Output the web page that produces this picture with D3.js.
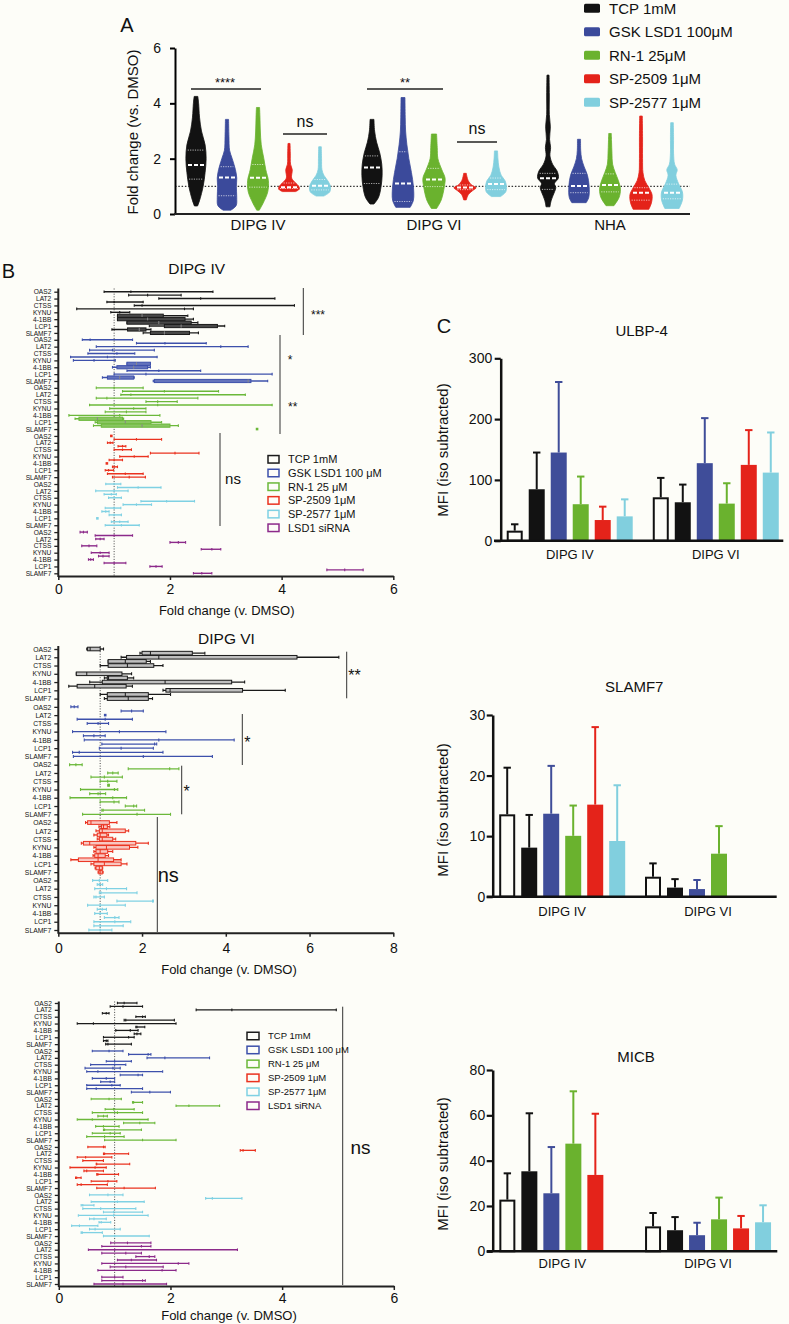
<!DOCTYPE html>
<html><head><meta charset="utf-8">
<script src="https://cdn.jsdelivr.net/npm/d3@7"></script>
<style>
html,body{margin:0;padding:0;background:#fdfdf8;}
svg{display:block;}
text{font-family:'Liberation Sans',Arial,Helvetica,sans-serif;fill:#111;}
</style></head><body>
<svg id="fig" width="789" height="1324"></svg>
<script>
// ================= DATA =================
// ---- Panel A (violins) ----
const groupsA = ["DIPG IV", "DIPG VI", "NHA"];
const treatmentsA = ["TCP 1mM", "GSK LSD1 100μM", "RN-1 25μM", "SP-2509 1μM", "SP-2577 1μM"];
const colorsA = ["#121212", "#3b4a9b", "#6ab22e", "#e4231a", "#81cfde"];
const yTicksA = [0, 2, 4, 6];
// density profiles: [fold change, relative density]
const violinDIPG4 = [
  [[0.29,0.12],[0.5,0.28],[1.0,0.55],[1.5,0.7],[2.0,0.78],[2.5,0.7],[3.0,0.42],[3.5,0.27],[4.0,0.2],[4.25,0.14]],
  [[0.14,0.3],[0.3,0.7],[0.6,0.75],[1.0,0.72],[1.3,0.75],[1.6,0.65],[2.0,0.4],[2.3,0.2],[2.8,0.15],[3.42,0.12]],
  [[0.14,0.1],[0.4,0.4],[0.8,0.75],[1.2,0.8],[1.6,0.6],[2.0,0.45],[2.5,0.25],[3.0,0.18],[3.5,0.15],[3.85,0.12]],
  [[0.81,0.5],[0.9,0.8],[1.0,0.75],[1.15,0.45],[1.3,0.2],[1.6,0.25],[1.8,0.12],[2.2,0.1],[2.55,0.08]],
  [[0.65,0.3],[0.8,0.75],[1.0,0.8],[1.2,0.6],[1.4,0.3],[1.6,0.15],[2.0,0.12],[2.43,0.1]]
];
const violinDIPG6 = [
  [[0.36,0.15],[0.6,0.5],[1.0,0.7],[1.4,0.78],[1.8,0.75],[2.2,0.6],[2.6,0.35],[3.0,0.2],[3.42,0.15]],
  [[0.24,0.55],[0.5,0.8],[1.0,0.8],[1.5,0.65],[2.0,0.45],[2.5,0.3],[3.0,0.2],[3.5,0.17],[4.21,0.15]],
  [[0.2,0.2],[0.5,0.55],[1.0,0.8],[1.3,0.85],[1.6,0.6],[2.0,0.3],[2.4,0.25],[2.89,0.2]],
  [[0.51,0.1],[0.7,0.25],[0.85,0.6],[0.95,0.85],[1.05,0.5],[1.2,0.25],[1.35,0.15],[1.47,0.1]],
  [[0.63,0.35],[0.8,0.75],[1.0,0.8],[1.2,0.7],[1.4,0.4],[1.7,0.22],[2.0,0.15],[2.28,0.12]]
];
const violinNHA = [
  [[0.26,0.15],[0.5,0.25],[0.8,0.5],[0.95,0.6],[1.1,0.5],[1.3,0.8],[1.55,0.7],[1.8,0.35],[2.1,0.15],[2.4,0.2],[2.7,0.12],[3.15,0.18],[3.6,0.1],[4.3,0.1],[5.02,0.08]],
  [[0.41,0.55],[0.6,0.75],[1.0,0.78],[1.4,0.65],[1.7,0.4],[2.0,0.2],[2.3,0.13],[2.7,0.12]],
  [[0.3,0.3],[0.6,0.7],[0.9,0.8],[1.2,0.65],[1.5,0.4],[1.8,0.2],[2.2,0.15],[2.6,0.12],[2.91,0.1]],
  [[0.17,0.6],[0.4,0.8],[0.7,0.85],[0.95,0.6],[1.2,0.3],[1.5,0.15],[2.0,0.12],[2.8,0.12],[3.54,0.1]],
  [[0.2,0.55],[0.5,0.8],[0.8,0.8],[1.1,0.5],[1.4,0.3],[1.6,0.4],[1.8,0.2],[2.2,0.12],[2.8,0.12],[3.3,0.1]]
];
// [Q1, median, Q3]
const statsDIPG4 = [[1.26,1.77,2.31],[0.66,1.32,1.71],[0.97,1.31,1.79],[0.92,0.97,1.12],[0.87,1.02,1.25]];
const statsDIPG6 = [[1.1,1.68,2.1],[0.45,1.1,2.25],[0.99,1.25,1.65],[0.88,0.96,1.05],[0.88,1.08,1.3]];
const statsNHA   = [[0.89,1.29,1.47],[0.77,1.01,1.47],[0.8,1.05,1.45],[0.5,0.77,0.95],[0.55,0.77,1.08]];

// ---- Panel B (floating bars / boxes): [lo, mid, hi] or [lo, q1, mid, q3, hi] ----
const genes = ["OAS2", "LAT2", "CTSS", "KYNU", "4-1BB", "LCP1", "SLAMF7"];
const treatmentsB = ["TCP 1mM", "GSK LSD1 100 μM", "RN-1 25 μM", "SP-2509 1μM", "SP-2577 1μM", "LSD1 siRNA"];
const colorsB = ["#1a1a1a", "#3d50ab", "#6bb83a", "#ea321f", "#7fd1e3", "#8c2a8a"];
const xTicksB1 = [0, 2, 4, 6];
const xTicksB2 = [0, 2, 4, 6, 8];
const xTicksB3 = [0, 2, 4, 6];

const b1TCP = [[0.82,1.3,2.77],[1.26,1.6,2.2],[1.8,2.55,3.88],[0.87,1.0,1.52],[1.36,1.5,4.23],[0.33,2.26,2.42],[0.94,1.1,1.28],
  [1.06,1.06,1.5,1.88,2.32],[1.06,1.06,1.6,2.27,2.42],[1.23,1.23,1.8,2.38,2.5],[1.63,1.9,2.2,2.85,2.98],[0.96,1.24,1.45,1.57,1.66],[1.52,1.65,1.9,2.35,2.51]];
const b1GSK = [[0.43,0.57,1.33],[1.4,1.91,2.65],[0.68,2.91,3.4],[0.56,0.97,1.72],[0.53,1.05,1.37],[0.22,0.88,1.77],[0.27,0.64,1.02],
  [1.23,1.23,1.4,1.65,1.65],[0.97,1.05,1.35,1.6,1.65],[1.23,1.8,2.55],[1.0,1.57,3.83],[0.79,0.88,1.1,1.35,1.36],[1.7,1.72,3.4,3.45,3.75]];
const b1RN1 = [[0.68,1.0,1.52],[1.15,1.9,2.87],[1.12,1.3,3.35],[0.68,0.87,2.5],[1.57,1.78,2.13],[0.56,1.78,3.83],[0.92,1.35,1.57],
  [0.84,1.22,1.57],[0.19,1.1,1.82],[0.3,0.37,0.7,1.15,1.17],[0.66,0.7,1.2,1.66,1.85],[0.63,0.77,1.5,2.0,2.15],[3.56,3.56,3.56]];
const b1SP2509 = [[0.93,0.95,0.97],[1.0,1.4,1.85],[0.88,0.93,0.98],[1.07,1.15,1.21],[1.0,1.15,1.31],[1.65,2.09,2.52],[1.1,1.36,1.61],
  [0.91,1.0,1.15],[0.86,0.87,0.88],[0.97,1.0,1.06],[0.84,0.9,0.99],[0.88,1.2,1.52],[0.97,1.27,1.56]];
const b1SP2577 = [[0.85,1.0,1.12],[1.06,1.43,1.84],[0.67,1.0,1.25],[0.82,0.95,1.04],[0.9,1.0,1.13],[1.48,1.94,2.44],[1.16,1.4,1.67],
  [0.84,1.0,1.12],[0.78,0.85,0.91],[0.91,1.0,1.13],[0.69,0.7,0.71],[0.95,1.1,1.25],[0.84,1.13,1.45]];
const b1SiRNA = [[0.39,0.45,0.52],[0.66,1.0,1.33],[0.67,0.75,0.82],[2.0,2.15,2.28],[0.42,0.55,0.69],[2.56,2.75,2.91],[0.59,0.75,0.91],
  [0.72,0.8,0.91],[0.54,0.58,0.63],[0.82,1.0,1.21],[1.64,1.75,1.86],[4.81,5.13,5.46],[2.42,2.57,2.75]];

const b2TCP = [[0.68,0.7,0.76,1.0,1.08],[1.95,2.0,2.2,3.2,3.5],[1.5,1.63,2.4,5.7,6.7],[1.19,1.19,1.6,2.1,2.2],[1.0,1.19,1.65,2.28,2.5],null,
  [0.43,0.43,0.68,1.52,1.75],[1.1,1.17,1.2,1.65,1.8],[0.75,1.05,2.55,4.14,4.45],[0.25,0.45,0.87,1.62,1.77],[2.5,2.57,2.67,4.4,5.42],
  [1.0,1.17,1.6,2.15,2.68],[1.1,1.17,1.67,2.15,2.25]];
const b2GSK = [[0.3,0.38,0.47],[1.5,1.75,2.03],[1.1,1.12,1.14],[0.45,1.12,1.77],[0.69,0.95,1.2],null,[0.34,1.46,2.57],
  [0.6,0.85,1.12],[0.62,2.4,4.2],[1.04,2.3,2.35],[0.98,1.5,2.27],[0.34,0.5,2.5],[0.36,2.03,3.68]];
const b2RN1 = [[0.27,0.42,0.57],[1.67,2.66,2.88],[1.18,1.3,1.43],[0.78,1.1,1.53],[1.0,1.18,1.4],[1.18,1.2,1.22],[0.53,1.34,1.42],
  [0.75,0.95,1.13],[0.28,1.3,1.63],[1.0,1.33,1.45],[1.6,1.8,1.87],[1.04,1.07,2.06],[0.58,1.88,2.68]];
const b2SP2509 = [[0.65,0.7,0.78,1.22,1.4],[0.97,1.03,1.08,1.17,1.23],[0.9,0.98,1.05,1.6,1.68],[0.85,0.93,1.0,1.16,1.2],
  [0.93,0.98,1.05,1.3,1.37],[0.55,0.6,0.75,1.85,2.15],[0.85,0.9,1.15,1.7,1.9],[0.85,0.9,1.0,1.18,1.3],[0.83,0.87,0.95,1.12,1.2],
  [0.3,0.48,0.95,1.32,1.5],[0.78,0.85,1.1,1.5,1.64],[0.88,0.9,0.98,1.05,1.06],[0.95,0.97,1.0,1.05,1.07]];
const b2SP2577 = [[0.82,0.98,1.18],[0.93,0.98,1.06],[0.87,1.15,1.63],[0.98,1.02,1.88],[0.85,0.9,1.1],[1.4,2.25,2.27],[0.7,1.0,1.6],
  [0.93,1.05,1.15],[0.87,1.0,1.17],[1.1,1.35,1.45],[0.85,1.35,1.73],[0.85,1.0,1.55],[0.73,1.0,1.28]];

const b3TCP = [[1.05,1.17,1.4],[0.92,1.15,1.5],[2.46,3.1,4.97],[0.78,0.85,0.9],[1.38,1.5,1.55],[1.17,1.2,2.07],[0.33,0.62,2.1],
  [1.38,1.4,1.54],[1.02,1.28,1.42],[1.35,1.4,1.47],[0.8,1.25,1.35],[0.8,0.85,0.88],[0.84,0.88,1.3]];
const b3GSK = [[0.6,0.9,1.15],[1.25,1.6,1.65],[1.58,1.9,2.7],[0.85,1.0,1.3],[0.57,1.0,1.2],[0.47,0.97,1.1],[0.5,0.7,1.86],
  [1.1,1.42,1.5],[0.6,0.85,1.0],[0.75,0.92,1.0],[0.5,0.95,1.1],[0.5,0.67,1.5],[1.3,1.63,2.0]];
const b3RN1 = [[0.58,0.9,1.12],[1.32,1.34,1.5],[2.1,2.33,2.88],[0.83,0.98,1.35],[0.6,1.05,1.5],[0.7,0.8,0.87],[0.33,0.6,1.6],
  [1.16,1.45,1.72],[0.66,0.8,1.08],[0.8,0.82,1.48],[0.6,0.92,1.1],[0.5,0.82,1.17],[0.82,1.5,2.1]];
const b3SP2509 = [[0.52,0.8,0.83],[3.25,3.3,3.52],[0.8,0.82,1.25],[0.33,0.48,0.95],[0.43,0.8,0.8],[0.67,0.68,1.27],[0.2,0.65,0.85],
  [0.45,0.5,0.8],[0.68,0.7,1.07],[0.3,0.32,0.4],[0.58,0.88,1.04],[0.33,0.4,0.87],[0.68,1.17,1.73]];
const b3SP2577 = [[0.55,0.88,1.15],[2.63,2.75,3.28],[0.58,1.05,1.53],[0.4,0.43,0.63],[0.43,0.75,1.38],[0.8,0.98,1.5],[0.35,0.98,1.6],
  [0.55,0.63,0.85],[0.72,0.76,0.93],[0.23,0.37,0.7],[0.55,0.65,1.1],[0.4,0.42,0.78],[0.8,1.0,1.62]];
const b3SiRNA = [[0.93,1.23,1.65],[0.77,1.48,1.65],[0.53,1.0,3.2],[0.77,1.2,1.48],[1.38,1.62,1.72],[1.05,1.3,1.75],[0.77,2.14,2.33],
  [0.92,1.2,1.87],[0.7,1.85,2.1],null,[0.77,1.0,1.15],[0.77,1.5,1.55],[0.63,1.15,1.93]];

// ---- Panel C (bar charts, mean + SD) ----
const groupsC = ["DIPG IV", "DIPG VI"];
const seriesC = ["DMSO", "TCP 1mM", "GSK LSD1 100μM", "RN-1 25μM", "SP-2509 1μM", "SP-2577 1μM"];
const colorsC = ["#fdfdf8", "#121212", "#3f4d99", "#6ab22e", "#e4231a", "#81cfde"];
const ulbp4Mean4 = [16.5, 84.6, 145, 60, 34, 40];
const ulbp4Sd4   = [10.5, 60.4, 116, 45.5, 22, 28];
const ulbp4Mean6 = [71.4, 63.2, 127.5, 61, 124.7, 112];
const ulbp4Sd6   = [31.9, 29.1, 74.1, 33.5, 57.2, 66];
const ulbp4Ticks = [0, 100, 200, 300];
const slamf7Mean4 = [13.6, 8.1, 13.7, 10.05, 15.2, 9.2];
const slamf7Sd4   = [7.7, 5.4, 7.9, 5.0, 12.8, 9.2];
const slamf7Mean6 = [3.3, 1.5, 1.26, 7.1, null, null];
const slamf7Sd6   = [2.2, 1.4, 1.5, 4.55, null, null];
const slamf7Ticks = [0, 10, 20, 30];
const micbMean4 = [22.8, 35.3, 25.6, 47.5, 33.7, null];
const micbSd4   = [11.6, 25.6, 20.4, 23.1, 27, null];
const micbMean6 = [11, 9.3, 7.1, 14.1, 10.1, 12.8];
const micbSd6   = [5.9, 5.8, 5.5, 9.6, 5.5, 7.5];
const micbTicks = [0, 20, 40, 60, 80];

// ================= DRAWING =================
const svg = d3.select("#fig");
svg.append("rect").attr("width", 789).attr("height", 1324).attr("fill", "#fdfdf8");
const intFmt = d3.format("d");

function txt(g, x, y, s, size, anchor, extra) {
  const t = g.append("text").attr("x", x).attr("y", y).attr("font-size", size)
    .attr("text-anchor", anchor || "middle").text(s);
  if (extra) t.attr("transform", extra);
  return t;
}
function vline(g, x, y1, y2, w, col) {
  return g.append("line").attr("x1", x).attr("x2", x).attr("y1", y1).attr("y2", y2)
    .attr("stroke", col || "#222").attr("stroke-width", w || 1);
}
function hline(g, x1, x2, y, w, col) {
  return g.append("line").attr("x1", x1).attr("x2", x2).attr("y1", y).attr("y2", y)
    .attr("stroke", col || "#222").attr("stroke-width", w || 1);
}

// ---------- Panel A ----------
(function () {
  const g = svg.append("g");
  const yA = d3.scaleLinear([0, 6], [214, 48]);
  const xA = d3.scaleBand(groupsA, [170, 698]);
  const xSub = d3.scalePoint(d3.range(5), [-62, 62]);
  const wA = d3.scaleLinear([0, 1], [0, 13]);
  const violins = [violinDIPG4, violinDIPG6, violinNHA];
  const stats = [statsDIPG4, statsDIPG6, statsNHA];

  g.append("line").attr("x1", 175).attr("x2", 690).attr("y1", yA(1)).attr("y2", yA(1))
    .attr("stroke", "#333").attr("stroke-width", 1.3).attr("stroke-dasharray", "1.5,1.8");

  groupsA.forEach((grp, gi) => {
    violins[gi].forEach((prof, ti) => {
      const cx = xA(grp) + xA.bandwidth() / 2 + xSub(ti);
      const dens = d3.scaleLinear(prof.map(p => p[0]), prof.map(p => p[1])).clamp(true);
      const area = d3.area().curve(d3.curveCatmullRom.alpha(0.5))
        .y(p => yA(p[0])).x0(p => cx - wA(p[1])).x1(p => cx + wA(p[1]));
      g.append("path").attr("d", area(prof)).attr("fill", colorsA[ti]).attr("stroke", colorsA[ti]).attr("stroke-width", 0.8);
      const [q1, med, q3] = stats[gi][ti];
      [q1, q3].forEach(v => {
        const hw = wA(dens(v)) - 1.2;
        hline(g, cx - hw, cx + hw, yA(v), 0.8, "#fff").attr("stroke-dasharray", "1.2,1.2").attr("opacity", 0.85);
      });
      const hwm = Math.min(wA(dens(med)) - 1, 8);
      hline(g, cx - hwm, cx + hwm, yA(med), 2, "#fff").attr("stroke-dasharray", "4,2");
    });
  });

  const ay = g.append("g").attr("transform", "translate(175,0)")
    .call(d3.axisLeft(yA).tickValues(yTicksA).tickFormat(intFmt).tickSize(5).tickPadding(9).tickSizeOuter(0));
  ay.select(".domain").attr("stroke-width", 2);
  ay.selectAll(".tick line").attr("stroke-width", 2);
  ay.selectAll("text").attr("font-size", 14).attr("font-family", null);
  hline(g, 174, 690, 214, 2, "#222");
  const ax = g.append("g").attr("transform", "translate(0,214)")
    .call(d3.axisBottom(xA).tickSize(0).tickPadding(5));
  ax.select(".domain").remove();
  ax.selectAll("text").attr("font-size", 15).attr("font-family", null);

  txt(g, 127, 32, "A", 20);
  txt(g, 0, 0, "Fold change (vs. DMSO)", 15, "middle", "translate(138,132) rotate(-90)");

  hline(g, 191, 261, 89, 1.5, "#222"); txt(g, 225, 87, "****", 13);
  hline(g, 367, 443, 89, 1.5, "#222"); txt(g, 405, 87, "**", 13);
  hline(g, 283, 327, 134, 1.5, "#222"); txt(g, 305, 127, "ns", 16);
  hline(g, 457, 497, 142, 1.5, "#222"); txt(g, 477, 134, "ns", 16);

  treatmentsA.forEach((t, i) => {
    const cy = 8.3 + i * 23.5;
    g.append("rect").attr("x", 584).attr("y", cy - 4.5).attr("width", 16).attr("height", 9)
      .attr("rx", 1.5).attr("fill", colorsA[i]);
    txt(g, 609, cy + 5.3, t, 15, "start");
  });
})();

// ---------- Panel B ----------
function drawForest(o) {
  const g = svg.append("g");
  const nRows = o.treatments.length * 7;
  const x = d3.scaleLinear(o.xDomain, [o.x0, o.x1]);
  const yRow = d3.scaleLinear([0, nRows - 1], [o.yTop, o.yBottom]);
  vline(g, x(1), o.axisTop, o.axisY, 1, "#444").attr("stroke-dasharray", "1,1.6");

  o.treatments.forEach((arr, t) => {
    const c = o.colors[t];
    const fillC = d3.interpolateRgb(c, "#ffffff")(o.boxMix);
    arr.forEach((d, s) => {
      if (!d) return;
      const y = yRow(t * 7 + s / 2);
      const lo = d[0], hi = d[d.length - 1], mid = d.length === 5 ? d[2] : d[1];
      const h = o.capH;
      if (hi - lo < 0.04) {
        g.append("rect").attr("x", x(mid) - 1.3).attr("y", y - 1.3).attr("width", 2.6).attr("height", 2.6).attr("fill", c);
        return;
      }
      hline(g, x(lo), x(hi), y, o.lw, c);
      vline(g, x(lo), y - h / 2, y + h / 2, 1.1, c);
      vline(g, x(hi), y - h / 2, y + h / 2, 1.1, c);
      if (d.length === 5) {
        g.append("rect").attr("x", x(d[1])).attr("y", y - o.boxH / 2)
          .attr("width", Math.max(0.5, x(d[3]) - x(d[1]))).attr("height", o.boxH)
          .attr("fill", fillC).attr("stroke", c).attr("stroke-width", 1);
        vline(g, x(mid), y - o.boxH / 2, y + o.boxH / 2, 1, o.boxMix < 0.5 ? "#888" : c);
      } else {
        vline(g, x(mid), y - h / 2, y + h / 2, 1.1, c);
      }
    });
  });

  const ay = g.append("g").attr("transform", `translate(${o.x0},0)`)
    .call(d3.axisLeft(yRow).tickValues(d3.range(nRows)).tickFormat(i => genes[i % 7])
      .tickSize(4).tickPadding(3).tickSizeOuter(0));
  ay.select(".domain").remove();
  ay.selectAll(".tick line").attr("stroke-width", 1.3).attr("stroke", "#222");
  ay.selectAll("text").attr("font-size", o.geneFs).attr("font-family", null);
  vline(g, o.x0, o.axisTop, o.axisY + 1, 2, "#222");

  const ax = g.append("g").attr("transform", `translate(0,${o.axisY})`)
    .call(d3.axisBottom(x).tickValues(o.xTicks).tickFormat(intFmt).tickSize(4).tickPadding(o.tickPad).tickSizeOuter(0));
  ax.select(".domain").attr("stroke-width", 2).attr("stroke", "#222");
  ax.selectAll(".tick line").attr("stroke-width", 1.5).attr("stroke", "#222");
  ax.selectAll("text").attr("font-size", 14).attr("font-family", null);
  txt(g, o.xLabelX, o.xLabelY, "Fold change (v. DMSO)", 13);
  if (o.title) txt(g, o.titleX, o.titleY, o.title, 15.5);
  return g;
}

function legendB(g, x, y0, step, fs, w, h) {
  treatmentsB.forEach((t, i) => {
    const cy = y0 + i * step;
    g.append("rect").attr("x", x).attr("y", cy - h / 2).attr("width", w).attr("height", h)
      .attr("fill", "none").attr("stroke", colorsB[i]).attr("stroke-width", 1.5);
    txt(g, x + w + 9, cy + fs * 0.36, t, fs, "start");
  });
}

const gB1 = drawForest({
  treatments: [b1TCP, b1GSK, b1RN1, b1SP2509, b1SP2577, b1SiRNA], colors: colorsB,
  xDomain: [0, 6], xTicks: xTicksB1, x0: 58.3, x1: 393.3,
  yTop: 291.7, yBottom: 573.3, axisTop: 288.5, axisY: 576, tickPad: 4,
  capH: 2.6, boxH: 3.2, lw: 1.4, geneFs: 6.6, boxMix: 0.2,
  xLabelX: 226.7, xLabelY: 615, title: "DIPG IV", titleX: 196.7, titleY: 274
});
txt(gB1, 8.5, 278, "B", 20);
vline(gB1, 303.3, 288, 335, 1, "#333"); txt(gB1, 318, 318.5, "***", 12);
vline(gB1, 280, 335, 434, 1, "#333"); txt(gB1, 290, 364, "*", 12); txt(gB1, 292.7, 410.5, "**", 12);
vline(gB1, 220, 433, 526, 1, "#333"); txt(gB1, 233, 484, "ns", 15);
legendB(gB1, 268, 459.3, 13.7, 11, 11, 7.5);

const gB2 = drawForest({
  treatments: [b2TCP, b2GSK, b2RN1, b2SP2509, b2SP2577], colors: colorsB,
  xDomain: [0, 8], xTicks: xTicksB2, x0: 58.3, x1: 393.3,
  yTop: 649, yBottom: 930, axisTop: 646, axisY: 932.7, tickPad: 6,
  capH: 3, boxH: 3.6, lw: 1.3, geneFs: 6.8, boxMix: 0.72,
  xLabelX: 229, xLabelY: 974, title: "DIPG VI", titleX: 226.5, titleY: 644
});
vline(gB2, 346.7, 651.7, 698.3, 1, "#333"); txt(gB2, 354.5, 681, "**", 16);
vline(gB2, 242.3, 714, 765, 1, "#333"); txt(gB2, 247.3, 748, "*", 16);
vline(gB2, 181.7, 765.7, 814.3, 1, "#333"); txt(gB2, 186.7, 797, "*", 16);
vline(gB2, 157.3, 817, 932, 1, "#333"); txt(gB2, 168.3, 881.7, "ns", 20);

const gB3 = drawForest({
  treatments: [b3TCP, b3GSK, b3RN1, b3SP2509, b3SP2577, b3SiRNA], colors: colorsB,
  xDomain: [0, 6], xTicks: xTicksB3, x0: 58.8, x1: 393.8,
  yTop: 1003, yBottom: 1284, axisTop: 1001.5, axisY: 1286, tickPad: 3,
  capH: 2.6, boxH: 3, lw: 1.3, geneFs: 6.6, boxMix: 0.7,
  xLabelX: 229, xLabelY: 1320, title: null
});
vline(gB3, 342.7, 1006.7, 1285, 1, "#333"); txt(gB3, 360.5, 1154, "ns", 19);
legendB(gB3, 247, 1036, 13.95, 9.5, 12, 7.5);

// ---------- Panel C ----------
function drawBars(o) {
  const g = svg.append("g");
  const y = d3.scaleLinear([0, o.yMax], [o.yBase, o.yTopPx]);
  const xg = d3.scaleBand(groupsC, [o.gc0 - 73, o.gc1 + 73]);
  const xs = d3.scalePoint(d3.range(6), [-55, 55]);
  const bw = 16;
  [[o.mean4, o.sd4], [o.mean6, o.sd6]].forEach(([means, sds], gi) => {
    means.forEach((m, i) => {
      if (m == null) return;
      const cx = xg(groupsC[gi]) + xg.bandwidth() / 2 + xs(i);
      const col = i === 0 ? "#111" : colorsC[i];
      const top = y(m), et = y(m + sds[i]);
      vline(g, cx, top, et, 2, col);
      hline(g, cx - 3.7, cx + 3.7, et, 2, col);
      if (i === 0) {
        g.append("rect").attr("x", cx - bw / 2 + 1).attr("y", top + 1).attr("width", bw - 2)
          .attr("height", Math.max(0, o.yBase - top - 1)).attr("fill", colorsC[0]).attr("stroke", "#111").attr("stroke-width", 2);
      } else {
        g.append("rect").attr("x", cx - bw / 2).attr("y", top).attr("width", bw)
          .attr("height", o.yBase - top).attr("fill", colorsC[i]);
      }
    });
  });
  const ay = g.append("g").attr("transform", `translate(${o.axisX},0)`)
    .call(d3.axisLeft(y).tickValues(o.ticks).tickFormat(intFmt).tickSize(6).tickPadding(o.tickPad).tickSizeOuter(0));
  ay.select(".domain").attr("stroke-width", 2.5).attr("stroke", "#111");
  ay.selectAll(".tick line").attr("stroke-width", 2.2).attr("stroke", "#111");
  ay.selectAll("text").attr("font-size", 14).attr("font-family", null);
  hline(g, o.xStart, o.xEnd, o.yBase, 2.5, "#111");
  const ax = g.append("g").attr("transform", `translate(0,${o.yBase})`)
    .call(d3.axisBottom(xg).tickSize(0).tickPadding(o.catPad));
  ax.select(".domain").remove();
  ax.selectAll("text").attr("font-size", 13).attr("font-family", null);
  txt(g, o.titleX, o.titleY, o.title, 15);
  txt(g, 0, 0, "MFI (iso subtracted)", 15, "middle", `translate(448,${o.ylabY}) rotate(-90)`);
  return g;
}

const gC1 = drawBars({
  title: "ULBP-4", titleX: 641.7, titleY: 336, mean4: ulbp4Mean4, sd4: ulbp4Sd4, mean6: ulbp4Mean6, sd6: ulbp4Sd6,
  yMax: 300, ticks: ulbp4Ticks, yBase: 540.7, yTopPx: 358.3, axisX: 500.7, xStart: 494, xEnd: 783.3,
  gc0: 569.7, gc1: 715.8, tickPad: 2.5, catPad: 9, ylabY: 450
});
txt(gC1, 444, 332.7, "C", 20);
drawBars({
  title: "SLAMF7", titleX: 634.3, titleY: 691.7, mean4: slamf7Mean4, sd4: slamf7Sd4, mean6: slamf7Mean6, sd6: slamf7Sd6,
  yMax: 30, ticks: slamf7Ticks, yBase: 896.7, yTopPx: 715, axisX: 492.7, xStart: 486.7, xEnd: 776.7,
  gc0: 562.3, gc1: 707.9, tickPad: 1.5, catPad: 10.5, ylabY: 810
});
drawBars({
  title: "MICB", titleX: 636, titleY: 1061.7, mean4: micbMean4, sd4: micbSd4, mean6: micbMean6, sd6: micbSd6,
  yMax: 80, ticks: micbTicks, yBase: 1251.3, yTopPx: 1070, axisX: 492.7, xStart: 486.7, xEnd: 777.3,
  gc0: 562.5, gc1: 707.9, tickPad: 1.5, catPad: 7, ylabY: 1164
});
</script></body></html>
